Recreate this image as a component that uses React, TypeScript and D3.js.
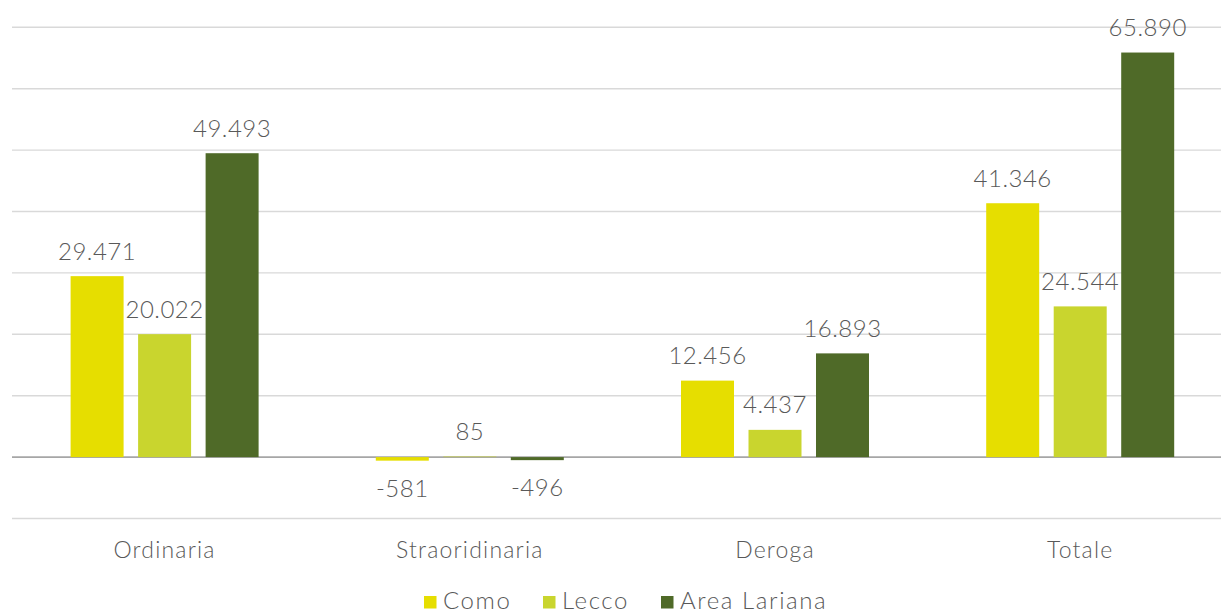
import React from "react";
import * as d3 from "d3";

const categories = ["Ordinaria", "Straoridinaria", "Deroga", "Totale"];
const seriesNames = ["Como", "Lecco", "Area Lariana"];
const como = [29471, -581, 12456, 41346];
const lecco = [20022, 85, 4437, 24544];
const areaLariana = [49493, -496, 16893, 65890];
const seriesValues = [como, lecco, areaLariana];
const seriesColors = ["#E6DE00", "#C9D52E", "#4F6A28"];
const yTicks = [-10000, 0, 10000, 20000, 30000, 40000, 50000, 60000, 70000];

const W = 1221;
const H = 611;
const FONT = "Lato, 'Open Sans', sans-serif";
const TEXT = "#595959";

const fmt = (v: number) => {
  const s = Math.abs(v).toString().replace(/\B(?=(\d{3})+(?!\d))/g, ".");
  return (v < 0 ? "-" : "") + s;
};

export default function App() {
  const x0 = d3.scaleBand<string>().domain(categories).range([12, 1232.8]).padding(0);
  const x1 = d3.scaleBand<string>().domain(seriesNames).range([-94, 94]).paddingInner(0.215).paddingOuter(0);
  const y = d3.scaleLinear().domain([-10000, 70000]).range([518.5, 27.3]);
  const zero = y(0);

  const legendX = [424, 543, 661];

  return (
    <svg width={W} height={H} style={{ position: "absolute", left: 0, top: 0, background: "#fff" }} fontFamily={FONT} fontWeight={300}>
      {yTicks.map((t) => (
        <line key={t} x1={12} x2={W} y1={y(t)} y2={y(t)} stroke={t === 0 ? "#A6A6A6" : "#D9D9D9"} strokeWidth={t === 0 ? 1.6 : 1.4} />
      ))}
      {categories.map((c, ci) => {
        const cx = (x0(c) as number) + x0.bandwidth() / 2;
        return (
          <g key={c}>
            {seriesNames.map((s, si) => {
              const v = seriesValues[si][ci];
              const bx = cx + (x1(s) as number);
              const bw = x1.bandwidth();
              const top = v >= 0 ? y(v) : zero;
              const h = Math.abs(y(v) - zero);
              const lx = bx + bw / 2;
              const ly = v >= 0 ? y(v) - 16.5 : y(v) + 36;
              return (
                <g key={s}>
                  <rect x={bx} y={top} width={bw} height={Math.max(h, 0.5)} fill={seriesColors[si]} />
                  <text x={lx} y={ly} textAnchor="middle" fontSize={24} fill={TEXT} letterSpacing={0.5}>
                    {fmt(v)}
                  </text>
                </g>
              );
            })}
            <text x={cx} y={558} textAnchor="middle" fontSize={23} fill={TEXT} letterSpacing={1.2}>
              {c}
            </text>
          </g>
        );
      })}
      {seriesNames.map((s, si) => (
        <g key={s}>
          <rect x={legendX[si]} y={596} width={12.5} height={12.5} fill={seriesColors[si]} />
          <text x={legendX[si] + 19} y={608.5} fontSize={24} fill={TEXT} letterSpacing={1.6}>
            {s}
          </text>
        </g>
      ))}
    </svg>
  );
}
